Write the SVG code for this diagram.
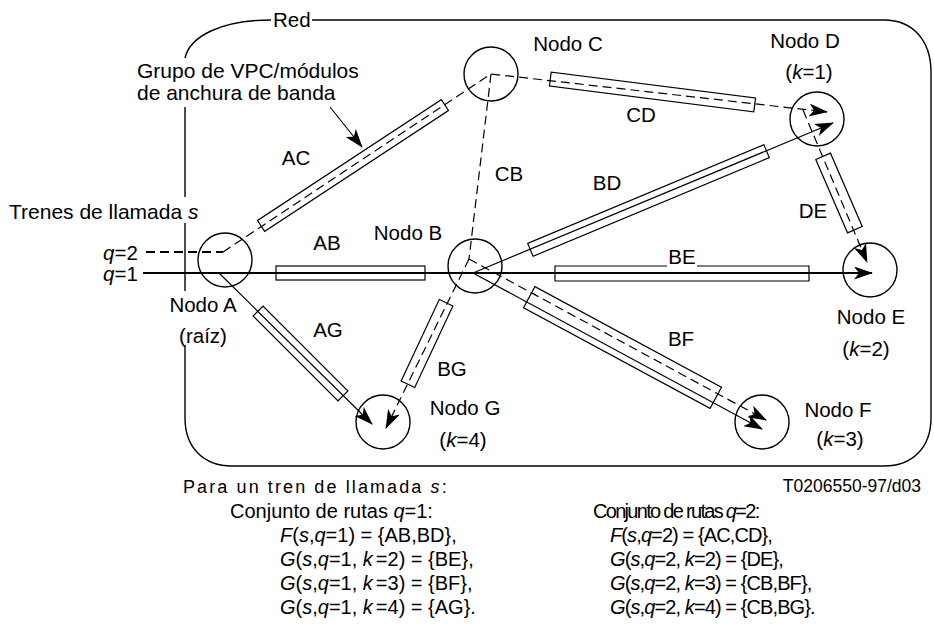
<svg xmlns="http://www.w3.org/2000/svg" width="934" height="630" viewBox="0 0 934 630">
<defs>
<style>
text{font-family:"Liberation Sans",Arial,sans-serif;font-size:20.5px;fill:#000}
.i{font-style:italic}
.big{font-size:21px}
.cap{font-size:20px}
.cond{letter-spacing:-0.9px}
.ln{fill:none;stroke:#000;stroke-width:1.2}
.thick{fill:none;stroke:#000;stroke-width:2.2}
.dash{fill:none;stroke:#000;stroke-width:1.2;stroke-dasharray:9,5}
.dthick{fill:none;stroke:#000;stroke-width:2.2;stroke-dasharray:9,5}
.box{fill:none;stroke:#000;stroke-width:1.2}
.node{fill:none;stroke:#000;stroke-width:1.4}
.frame{fill:none;stroke:#000;stroke-width:1.4}
.mid{text-anchor:middle}
</style>
<marker id="ah" markerUnits="userSpaceOnUse" viewBox="0 0 19 13" refX="18" refY="6.5" markerWidth="19" markerHeight="13" orient="auto">
<path d="M0,0 L19,6.5 L0,13 L5,6.5 z" fill="#000"/>
</marker>
</defs>
<rect width="934" height="630" fill="#fff"/>

<g id="frame">
<path class="frame" d="M185,58 C190,36 222,20 271,20"/>
<path class="frame" d="M312,20 H884 C914,20 931,42 931,72 V418 C931,448 912,466 884,466 H232 C204,466 185,448 185,418 V345"/>
<path class="frame" d="M185,291 V223"/>
<path class="frame" d="M185,197 V107"/>
<text x="273" y="27">Red</text>
<text class="big" x="137" y="78">Grupo de VPC/módulos</text>
<text class="big" x="137" y="100">de anchura de banda</text>
<text class="big" x="9" y="219">Trenes de llamada <tspan class="i">s</tspan></text>
<text x="103" y="260"><tspan class="i">q</tspan>=2</text>
<text x="103" y="281"><tspan class="i">q</tspan>=1</text>
</g>

<g id="connectors">
<path class="thick" d="M143,273 H872" marker-end="url(#ah)"/>
<path class="dthick" d="M146,252 H223"/>
<path class="dash" d="M223,252 L491,74 L827,112" marker-end="url(#ah)"/>
<path class="dash" d="M491,74 L469,259"/>
<path class="dash" d="M469,259 L766,420" marker-end="url(#ah)"/>
<path class="dash" d="M469,259 L386,428" marker-end="url(#ah)"/>
<path class="dash" d="M803,110 L867,262" marker-end="url(#ah)"/>
<path class="ln" d="M473,273 L833,123" marker-end="url(#ah)"/>
<path class="ln" d="M473,273 L762,429" marker-end="url(#ah)"/>
<path class="ln" d="M219,273 L372,424" marker-end="url(#ah)"/>
<path class="ln" d="M330,107 L362,147" marker-end="url(#ah)"/>
<rect class="box" x="-110" y="-6.5" width="220" height="13" transform="translate(353,165.5) rotate(-33.3)"/>
<rect class="box" x="276" y="266" width="149" height="14"/>
<path class="box" d="M667,266 H555 V281 H809 V266 H697"/>
<rect class="box" x="-103" y="-7" width="206" height="14" transform="translate(652.5,92) rotate(7.23)"/>
<rect class="box" x="-128" y="-7" width="256" height="14" transform="translate(648.5,200.5) rotate(-22.67)"/>
<rect class="box" x="-40" y="-8" width="80" height="16" transform="translate(839,193) rotate(66.6)"/>
<rect class="box" x="-106" y="-12" width="212" height="24" transform="translate(622.5,347.5) rotate(28.37)"/>
<rect class="box" x="-45" y="-7.5" width="90" height="15" transform="translate(427,343.5) rotate(-64.9)"/>
<rect class="box" x="-60" y="-7" width="120" height="14" transform="translate(300.5,353.5) rotate(45)"/>
<text class="mid" x="296" y="165">AC</text>
<text class="mid" x="327" y="250">AB</text>
<text class="mid" x="328" y="337">AG</text>
<text class="mid" x="509" y="181">CB</text>
<text class="mid" x="607" y="190">BD</text>
<text class="mid" x="641" y="122">CD</text>
<text class="mid" x="813" y="218">DE</text>
<text class="mid" x="682" y="264">BE</text>
<text class="mid" x="681" y="346">BF</text>
<text class="mid" x="452" y="376">BG</text>
</g>

<g id="nodeA">
<circle class="node" cx="225" cy="260" r="27"/>
<text class="mid" x="203" y="312">Nodo A</text>
<text class="mid" x="203" y="343">(raíz)</text>
</g>
<g id="nodeB">
<circle class="node" cx="475" cy="266" r="27"/>
<text class="mid" x="408" y="240">Nodo B</text>
</g>
<g id="nodeC">
<circle class="node" cx="491" cy="74" r="27"/>
<text class="mid" x="568" y="51">Nodo C</text>
</g>
<g id="nodeD">
<circle class="node" cx="817" cy="119" r="27"/>
<text class="mid" x="805" y="48">Nodo D</text>
<text class="mid" x="809" y="79">(<tspan class="i">k</tspan>=1)</text>
</g>
<g id="nodeE">
<circle class="node" cx="870" cy="270" r="27"/>
<text class="mid" x="871" y="324">Nodo E</text>
<text class="mid" x="866" y="356">(<tspan class="i">k</tspan>=2)</text>
</g>
<g id="nodeF">
<circle class="node" cx="762" cy="422" r="27"/>
<text class="mid" x="838" y="417">Nodo F</text>
<text class="mid" x="840" y="446">(<tspan class="i">k</tspan>=3)</text>
</g>
<g id="nodeG">
<circle class="node" cx="383" cy="422" r="27"/>
<text class="mid" x="465" y="415">Nodo G</text>
<text class="mid" x="463" y="447">(<tspan class="i">k</tspan>=4)</text>
</g>

<g id="caption">
<text x="921" y="492" style="font-size:17.5px;text-anchor:end">T0206550-97/d03</text>
<text x="183" y="493" style="font-size:18px;letter-spacing:2.1px">Para un tren de llamada <tspan class="i">s</tspan>:</text>
<text class="cap" x="230" y="518">Conjunto de rutas <tspan class="i">q</tspan>=1:</text>
<text class="cap" x="280" y="542"><tspan class="i">F</tspan>(<tspan class="i">s</tspan>,<tspan class="i">q</tspan>=1) = {AB,BD},</text>
<text class="cap" x="280" y="566"><tspan class="i">G</tspan>(<tspan class="i">s</tspan>,<tspan class="i">q</tspan>=1, <tspan class="i">k</tspan><tspan dx="3">=2) = {BE},</tspan></text>
<text class="cap" x="280" y="590"><tspan class="i">G</tspan>(<tspan class="i">s</tspan>,<tspan class="i">q</tspan>=1, <tspan class="i">k</tspan><tspan dx="3">=3) = {BF},</tspan></text>
<text class="cap" x="280" y="614"><tspan class="i">G</tspan>(<tspan class="i">s</tspan>,<tspan class="i">q</tspan>=1, <tspan class="i">k</tspan><tspan dx="3">=4) = {AG}.</tspan></text>
<text class="cap" x="593" y="518" style="letter-spacing:-1.7px">Conjunto de rutas <tspan class="i">q</tspan>=2:</text>
<text class="cap cond" x="610" y="542"><tspan class="i">F</tspan>(<tspan class="i">s</tspan>,<tspan class="i">q</tspan>=2) = {AC,CD},</text>
<text class="cap cond" x="610" y="566"><tspan class="i">G</tspan>(<tspan class="i">s</tspan>,<tspan class="i">q</tspan>=2, <tspan class="i">k</tspan>=2) = {DE},</text>
<text class="cap cond" x="610" y="590"><tspan class="i">G</tspan>(<tspan class="i">s</tspan>,<tspan class="i">q</tspan>=2, <tspan class="i">k</tspan>=3) = {CB,BF},</text>
<text class="cap cond" x="610" y="614"><tspan class="i">G</tspan>(<tspan class="i">s</tspan>,<tspan class="i">q</tspan>=2, <tspan class="i">k</tspan>=4) = {CB,BG}.</text>
</g>
</svg>
